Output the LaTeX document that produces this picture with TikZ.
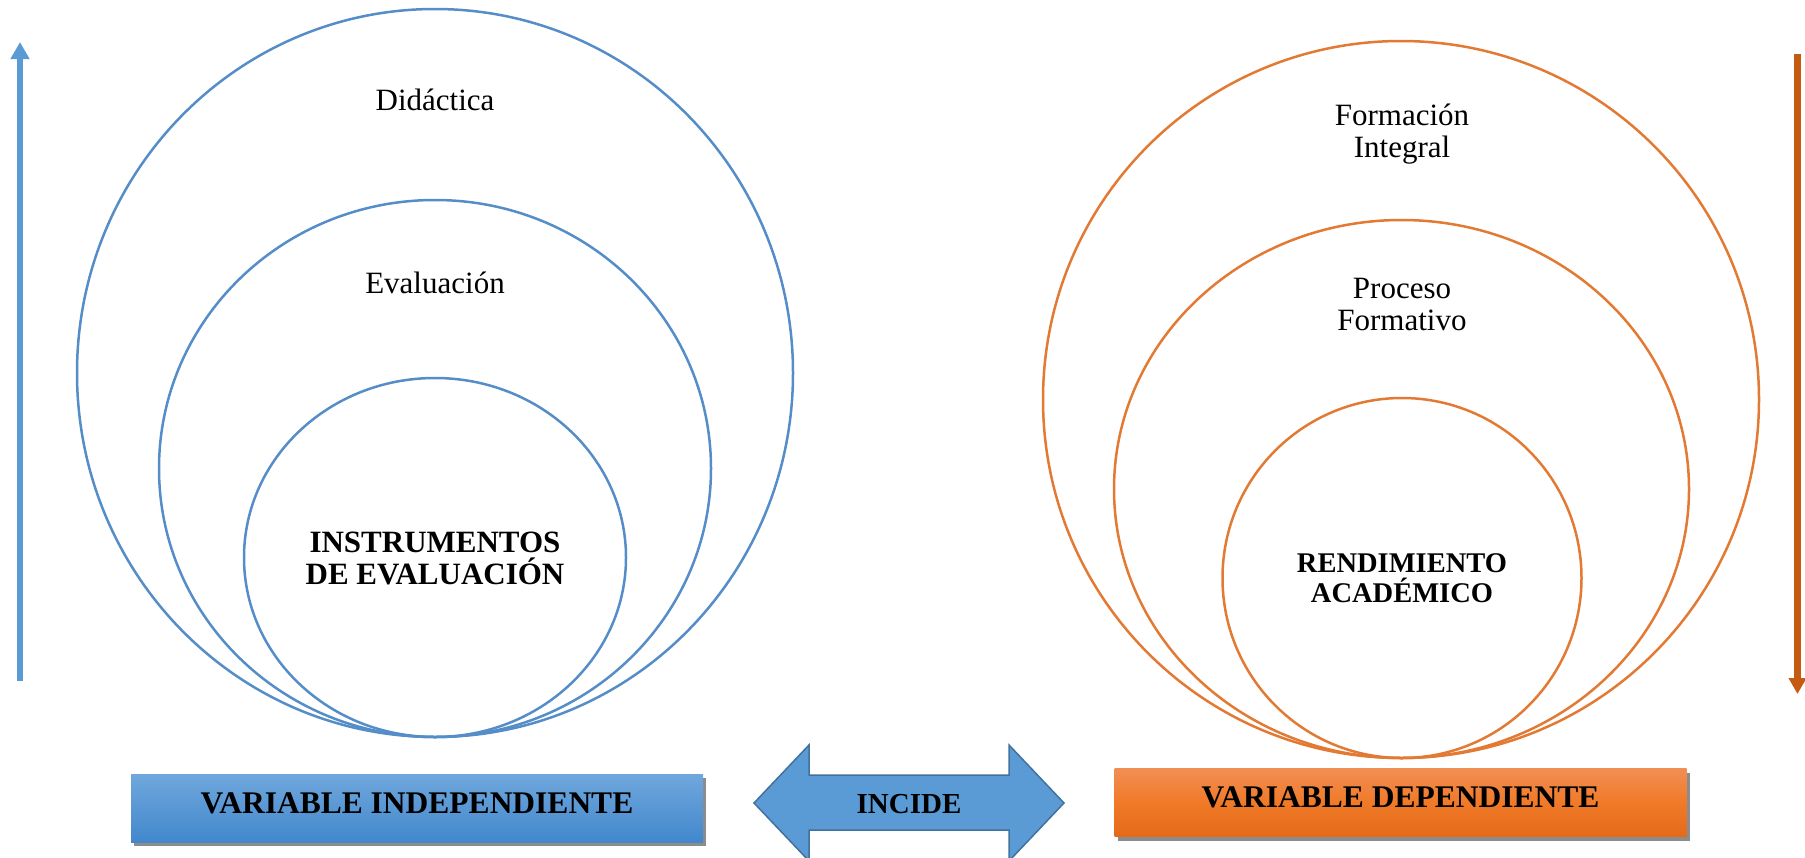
\documentclass[tikz,border=0pt]{standalone}
\usepackage{fontspec}
\setmainfont{Liberation Serif}
\usetikzlibrary{arrows.meta,shadows}
\definecolor{ringblue}{RGB}{84,141,200}
\definecolor{ringorange}{RGB}{226,122,52}
\definecolor{arrowblue}{RGB}{91,155,213}
\definecolor{arroworange}{RGB}{197,90,17}
\definecolor{edgeblue}{RGB}{65,113,156}

\begin{document}
\begin{tikzpicture}[x=1pt, y=-1pt,
    lring/.style={draw=ringblue, line width=2.5pt},
    rring/.style={draw=ringorange, line width=2.5pt},
    lbl/.style={font=\fontsize{31}{32}\selectfont, align=center, inner sep=0pt},
    blbl/.style={lbl, font=\fontsize{31}{32}\selectfont\bfseries},
    varbox/.style={minimum width=572pt, minimum height=68pt, inner sep=0pt,
      text depth=10pt, font=\fontsize{31.5}{32}\selectfont\bfseries,
      drop shadow={shadow xshift=3pt, shadow yshift=-4pt, opacity=.45, fill=black}},]
  \useasboundingbox (0,0) rectangle (1805,857);
  % left rings
  \draw[lring] (435,373) ellipse [x radius=358, y radius=364];
  \draw[lring] (435,468.5) ellipse [x radius=276, y radius=268.5];
  \draw[lring] (435,557.5) ellipse [x radius=191, y radius=179.5];
  \node[lbl, anchor=base] (didactica) at (435,110) {Didáctica};
  \node[lbl, anchor=base] (evaluacion) at (435,293) {Evaluación};
  \node[blbl] (instrumentos) at (435,558.5) {INSTRUMENTOS\\DE EVALUACIÓN};
  % right rings
  \draw[rring] (1401,399.5) ellipse [x radius=358, y radius=358.5];
  \draw[rring] (1401.5,489) ellipse [x radius=287.5, y radius=269];
  \draw[rring] (1402,578) ellipse [x radius=179.5, y radius=180];
  \node[lbl] (formacion) at (1402,134) {Formación\\Integral};
  \node[lbl] (proceso) at (1402,304.5) {Proceso\\Formativo};
  \node[blbl, font=\fontsize{28.5}{30}\selectfont\bfseries] (rendimiento) at (1402,578.5) {RENDIMIENTO\\ACADÉMICO};
  % side arrows
  \coordinate (up-from) at (20,681);
  \coordinate (up-to) at (20,42);
  \coordinate (down-from) at (1797.5,54);
  \coordinate (down-to) at (1797.5,694);
  \draw[arrowblue, line width=6pt, -{Triangle[length=17pt, width=18pt]}] (up-from) -- (up-to);
  \draw[arroworange, line width=7pt, -{Triangle[length=16pt, width=17pt]}] (down-from) -- (down-to);
  % boxes
  \node[varbox, top color={rgb,255:red,112;green,167;blue,221}, bottom color={rgb,255:red,66;green,136;blue,204}] (indep) at (417,808) {VARIABLE INDEPENDIENTE};
  \node[varbox, top color={rgb,255:red,242;green,142;blue,84}, bottom color={rgb,255:red,228;green,106;blue,24}, middle color={rgb,255:red,240;green,122;blue,40}] (dep) at (1400.5,802.5) {VARIABLE DEPENDIENTE};
  % double arrow
  \filldraw[fill=arrowblue, draw=edgeblue, line width=1.5pt, line join=miter]
    (754,803) -- (809,745) -- (809,775) -- (1009,775) -- (1009,745) -- (1064,803)
    -- (1009,861) -- (1009,830) -- (809,830) -- (809,861) -- cycle;
  \node[blbl, font=\fontsize{29}{30}\selectfont\bfseries] (incide) at (909,804) {INCIDE};
\end{tikzpicture}
\end{document}
